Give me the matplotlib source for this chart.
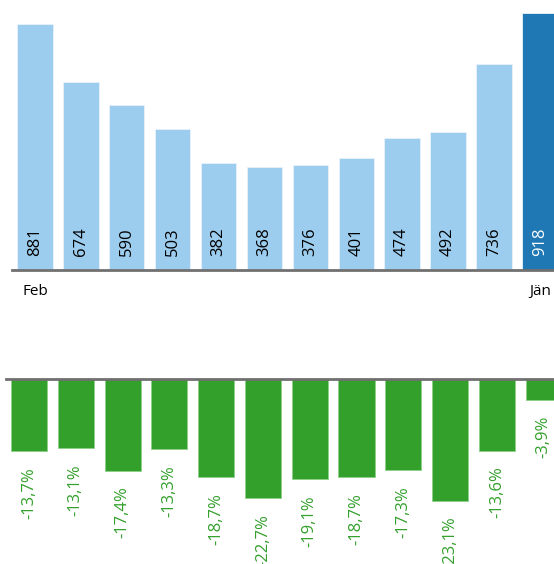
import numpy as np
import matplotlib
matplotlib.use("Agg")
import matplotlib.pyplot as plt

# data
counts = [881, 674, 590, 503, 382, 368, 376, 401, 474, 492, 736, 918]
changes = [-13.7, -13.1, -17.4, -13.3, -18.7, -22.7, -19.1, -18.7, -17.3, -23.1, -13.6, -3.9]
tick_labels = ["Feb", "Jän"]

plt.rcParams['font.family'] = ['Open Sans', 'DejaVu Sans']

W, H = 554, 564
fig = plt.figure(figsize=(W / 100, H / 100), dpi=100)

light_blue = '#9dcdee'
dark_blue = '#1f78b4'
green = '#33a02c'
axis_gray = '#707070'

x = np.arange(len(counts))

# top chart: counts
top_base = 270
ax1 = fig.add_axes([12 / W, 1 - top_base / H, 1 - 12 / W, top_base / H])
colors = [light_blue] * (len(counts) - 1) + [dark_blue]
ax1.bar(x, counts, width=0.77, color=colors, edgecolor='#e8f3fb', linewidth=0.6)
ax1.set_xlim(-0.5, 11.31)
ax1.set_ylim(0, top_base / 0.2795)
for i, v in enumerate(counts):
    ax1.annotate(f"{v}", (i, 0), xytext=(0, 14), textcoords='offset pixels',
                 rotation=90, ha='center', va='bottom', fontsize=12,
                 color='white' if i == len(counts) - 1 else 'black')
for s in ['top', 'right', 'left']:
    ax1.spines[s].set_visible(False)
ax1.spines['bottom'].set_color(axis_gray)
ax1.spines['bottom'].set_linewidth(2)
ax1.set_yticks([])
ax1.set_xticks([0, len(counts) - 1])
ax1.set_xticklabels(tick_labels, fontsize=11)
ax1.tick_params(axis='x', length=0, pad=10)

# bottom chart: change in percent
bot_base = 379
ax2 = fig.add_axes([6 / W, 0, 1 - 6 / W, (H - bot_base) / H])
ax2.bar(x, changes, width=0.77, color=green, edgecolor='#8fcf8a', linewidth=0.6)
ax2.set_xlim(-0.49, 11.22)
ax2.set_ylim(-(H - bot_base) / 5.26, 0)
for i, v in enumerate(changes):
    ax2.annotate(f"{v:.1f}%".replace('.', ','), (i, v), xytext=(0, -16),
                 textcoords='offset pixels', rotation=90, ha='center', va='top',
                 fontsize=12, color=green, annotation_clip=False)
for s in ['bottom', 'right', 'left']:
    ax2.spines[s].set_visible(False)
ax2.spines['top'].set_color(axis_gray)
ax2.spines['top'].set_linewidth(2)
ax2.set_xticks([])
ax2.set_yticks([])

fig.savefig('out.png', dpi=100)
